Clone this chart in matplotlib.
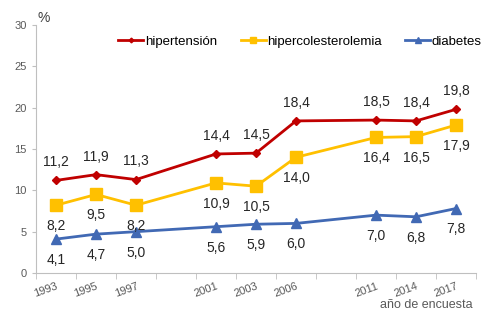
import matplotlib.pyplot as plt
import numpy as np

plt.rcParams['font.family'] = ['Liberation Sans', 'DejaVu Sans']

# categorías del eje x (huecos vacíos entre 1997-2001 y 2006-2011)
categorias = ['1993', '1995', '1997', '', '2001', '2003', '2006', '', '2011', '2014', '2017']
anios = ['1993', '1995', '1997', '2001', '2003', '2006', '2011', '2014', '2017']

hipertension = [11.2, 11.9, 11.3, 14.4, 14.5, 18.4, 18.5, 18.4, 19.8]
hipercolesterolemia = [8.2, 9.5, 8.2, 10.9, 10.5, 14.0, 16.4, 16.5, 17.9]
diabetes = [4.1, 4.7, 5.0, 5.6, 5.9, 6.0, 7.0, 6.8, 7.8]

x = np.array([categorias.index(a) for a in anios])

fig = plt.figure(figsize=(4.95, 3.28), dpi=100)
ax = fig.add_axes([0.0727, 0.1677, 0.889, 0.756])

series = [
    ('hipertensión', hipertension, '#C00000', 'D', 4, 'above'),
    ('hipercolesterolemia', hipercolesterolemia, '#FFC000', 's', 8, 'below'),
    ('diabetes', diabetes, '#4169B4', '^', 7, 'below'),
]

for nombre, vals, color, mk, ms, pos in series:
    ax.plot(x, vals, color=color, lw=2, marker=mk, markersize=ms, label=nombre)
    for xi, v in zip(x, vals):
        txt = f'{v:.1f}'.replace('.', ',')
        if pos == 'above':
            ax.annotate(txt, (xi, v), xytext=(0, 8), textcoords='offset points',
                        ha='center', va='bottom', fontsize=10, color='#262626')
        else:
            ax.annotate(txt, (xi, v), xytext=(0, -10), textcoords='offset points',
                        ha='center', va='top', fontsize=10, color='#262626')

ax.set_xlim(-0.5, len(categorias) - 0.5)
ax.set_ylim(0, 30)
ax.set_yticks(range(0, 31, 5))
ax.set_xticks(range(len(categorias)))
ax.set_xticklabels(categorias, rotation=20, ha='right', rotation_mode='anchor')
ax.set_xticks(np.arange(-0.5, len(categorias), 1), minor=True)
ax.tick_params(axis='x', which='major', length=0, pad=6, labelsize=8, labelcolor='#595959')
ax.tick_params(axis='x', which='minor', length=4, color='#BFBFBF')
ax.tick_params(axis='y', length=3, color='#BFBFBF', labelsize=8, labelcolor='#595959')

for s in ['top', 'right']:
    ax.spines[s].set_visible(False)
for s in ['left', 'bottom']:
    ax.spines[s].set_color('#BFBFBF')

fig.text(0.075, 0.945, '%', fontsize=10, color='#404040', ha='left', va='center')
fig.text(0.955, 0.07, 'año de encuesta', fontsize=9, color='#595959', ha='right', va='center')

ax.legend(loc='upper center', bbox_to_anchor=(0.6, 1.005), ncol=3, frameon=False,
          fontsize=9.5, handlelength=1.9, columnspacing=1.8, handletextpad=0.1,
          markerscale=0.6)

fig.savefig('out.png', dpi=100)
